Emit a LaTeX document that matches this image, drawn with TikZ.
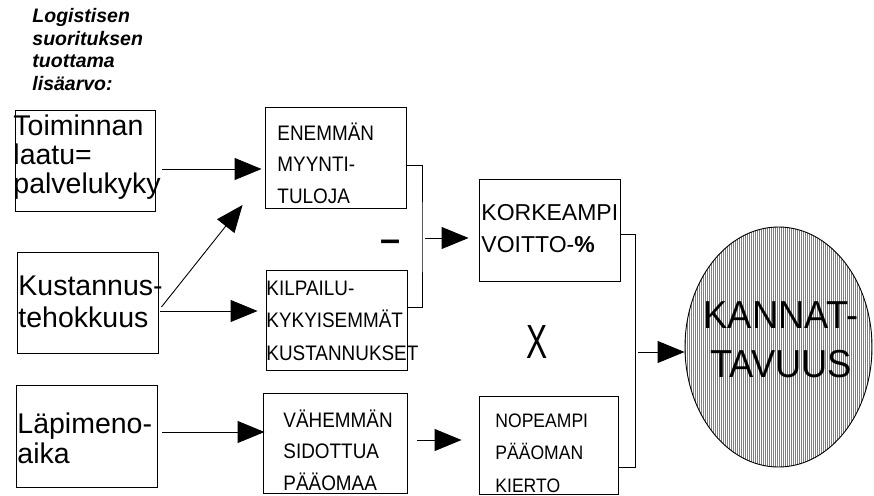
\documentclass[tikz,border=0pt]{standalone}
\usepackage{fontspec}
\setmainfont{Liberation Sans}
\newfontfamily\condfont{Liberation Sans}[FakeStretch=0.9]
\usetikzlibrary{arrows.meta,shapes.geometric}
\begin{document}
\begin{tikzpicture}[x=1pt,y=-1pt,line width=0.9pt,
  box/.style={draw, rectangle, inner sep=0pt},
  arr/.style={-{Triangle[length=27pt,width=22pt]}},
  lbl/.style={anchor=base west, inner sep=0pt, align=left},
  lefttxt/.style={lbl, font=\fontsize{28.5}{31}\selectfont},
  midtxt/.style={lbl, font=\condfont\fontsize{21}{31.5}\selectfont}]
\useasboundingbox (0,0) rectangle (874,495);

% title (anchored at the baseline of its last line)
\node[lbl, font=\fontsize{19.5}{22.5}\selectfont\bfseries\itshape] (title) at (32,90)
  {Logistisen\\suorituksen\\tuottama\\lisäarvo:};

% boxes
\node[box, minimum width=140pt, minimum height=101pt] (b1) at (85,160.5) {};
\node[box, minimum width=141pt, minimum height=101pt] (b2) at (87.5,302.5) {};
\node[box, minimum width=141pt, minimum height=102pt] (b3) at (86.5,436) {};
\node[box, minimum width=141pt, minimum height=101pt] (ene) at (335.5,157.5) {};
\node[box, minimum width=141pt, minimum height=100pt] (kil) at (336.5,320) {};
\node[box, minimum width=144pt, minimum height=100pt] (vah) at (335,443) {};
\node[box, minimum width=141pt, minimum height=102pt] (kor) at (549.5,230) {};
\node[box, minimum width=139pt, minimum height=98pt] (nop) at (548.5,445) {};

% texts (anchored at the baseline of the last line)
\node[lefttxt, font=\fontsize{28.5}{29}\selectfont] (t1) at (13,193) {Toiminnan\\laatu=\\palvelukyky};
\node[lefttxt, font=\fontsize{28.5}{32}\selectfont] (t2) at (18,327) {Kustannus-\\tehokkuus};
\node[lefttxt, font=\fontsize{28.5}{30}\selectfont] (t3) at (17,463) {Läpimeno-\\aika};
\node[midtxt] (tene) at (277,203) {ENEMMÄN\\MYYNTI-\\TULOJA};
\node[midtxt, font=\condfont\fontsize{21}{32.5}\selectfont] (tkil) at (266,360) {KILPAILU-\\KYKYISEMMÄT\\KUSTANNUKSET};
\node[midtxt] (tvah) at (283,490) {VÄHEMMÄN\\SIDOTTUA\\PÄÄOMAA};
\node[midtxt, font=\condfont\fontsize{19.5}{32.5}\selectfont] (tnop) at (495,492) {NOPEAMPI\\PÄÄOMAN\\KIERTO};
\node[lbl, font=\fontsize{23}{32}\selectfont] (tkor) at (481,252) {KORKEAMPI\\VOITTO-\textbf{\%}};

% operators
\node[anchor=base, inner sep=0pt] (minus) at (391,251) {\fontsize{36}{36}\selectfont\bfseries –};
\node[anchor=base, inner sep=0pt] (times) at (537,358) {\fontsize{48}{48}\selectfont\scalebox{0.66}[1]{X}};

% ellipse with vertical hatching
\begin{scope}
  \clip (778.5,347) ellipse [x radius=93.5pt, y radius=120pt];
  \foreach \i in {0,...,95} {
    \draw[line width=0.5pt, black!50] (685+2*\i,220) -- (685+2*\i,475);
  }
\end{scope}
\node[draw, ellipse, inner sep=0pt, minimum width=187pt, minimum height=240pt] (ell) at (778.5,347) {};
\node[anchor=base, align=center, inner sep=0pt, font=\fontsize{39}{49}\selectfont] (kt) at (781,377)
  {\scalebox{0.93}[1]{KANNAT-}\\\scalebox{0.93}[1]{TAVUUS}};

% connectors
\draw[arr] ([shift={(7,8.5)}]b1.east) -- ([shift={(-3,11.5)}]ene.west);
\draw[arr] ([shift={(3,4.5)}]b2.east) -- ([shift={(-22,47.5)}]ene.west);
\draw[arr] ([shift={(2,8.5)}]b2.east) -- ([shift={(-8,-9)}]kil.west);
\draw[arr] ([shift={(5,-4)}]b3.east) -- ([shift={(2,-11)}]vah.west);
\draw[arr] ([shift={(10,-3)}]vah.east) -- ([shift={(-17,-5)}]nop.west);

\coordinate (jA) at (422,238);
\coordinate (jB) at (635,352);
\draw ([shift={(0,7.5)}]ene.east) -| (jA) |- ([shift={(0,-13)}]kil.east);
\draw[arr] ([xshift=3pt]jA) -- ([shift={(-10,8)}]kor.west);
\draw ([shift={(0,4)}]kor.east) -| (jB) |- ([shift={(0,22)}]nop.east);
\draw[arr] ([xshift=3pt]jB) -- ([shift={(0,5)}]ell.west);
\end{tikzpicture}
\end{document}
